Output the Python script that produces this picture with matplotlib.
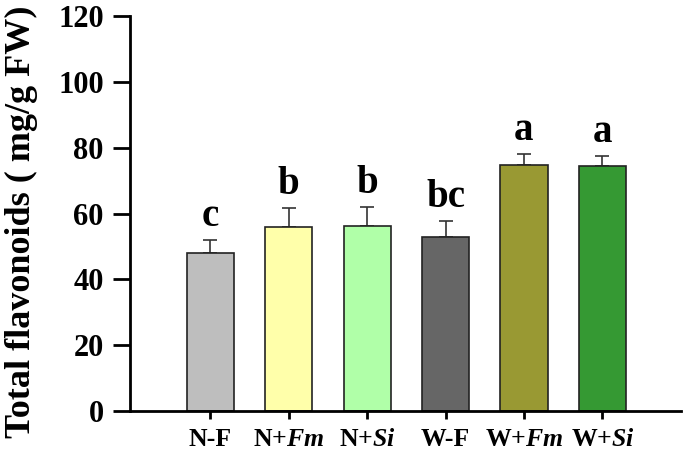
import numpy as np
import matplotlib
matplotlib.use('Agg')
import matplotlib.pyplot as plt

# datos
grupos = ['N-F', 'N+$Fm$', 'N+$Si$', 'W-F', 'W+$Fm$', 'W+$Si$']
medias = [48.0, 55.8, 56.3, 53.0, 74.8, 74.4]
errores = [3.9, 5.8, 5.6, 4.8, 3.3, 3.2]
letras = ['c', 'b', 'b', 'bc', 'a', 'a']
colores = ['#bebebe', '#ffffaa', '#b0ffa8', '#666666', '#999933', '#359933']

plt.rcParams['font.family'] = 'Liberation Serif'
plt.rcParams['font.weight'] = 'bold'
plt.rcParams['mathtext.fontset'] = 'custom'
plt.rcParams['mathtext.it'] = 'Liberation Serif:italic:bold'
plt.rcParams['mathtext.rm'] = 'Liberation Serif:bold'

fig = plt.figure(figsize=(6.85, 4.5), dpi=100)
ax = fig.add_axes([0.19, 0.087, 0.804, 0.877])

x = np.arange(len(grupos))
ax.bar(x, medias, width=0.6, color=colores, edgecolor='#222222', linewidth=1.2, zorder=2)
ax.errorbar(x, medias, yerr=[np.zeros(len(errores)), errores], fmt='none',
            ecolor='#333333', elinewidth=1.2, capsize=5, capthick=1.2, zorder=1)

# letras de significancia
for xi, m, e, l in zip(x, medias, errores, letras):
    ax.text(xi, m + e + 4.2, l, ha='center', va='baseline', fontsize=28, fontweight='bold')

ax.set_xlim(-1.02, 6.0)
ax.set_ylim(0, 120)
ax.set_yticks(np.arange(0, 121, 20))
ax.set_xticks(x)
ax.set_xticklabels(grupos, fontsize=18.5, fontweight='bold')
ax.tick_params(axis='y', labelsize=22, width=2, length=12, pad=7, direction='out')
ax.tick_params(axis='x', width=2, length=6, direction='out', pad=6)
for lab in ax.get_yticklabels():
    lab.set_fontweight('bold')

ax.spines['top'].set_visible(False)
ax.spines['right'].set_visible(False)
ax.spines['left'].set_linewidth(2)
ax.spines['bottom'].set_linewidth(2)

ax.set_ylabel('Total flavonoids ( mg/g FW)', fontsize=26, fontweight='bold')
ax.yaxis.set_label_coords(-0.167, 0.48)

plt.savefig('out.png', dpi=100)
